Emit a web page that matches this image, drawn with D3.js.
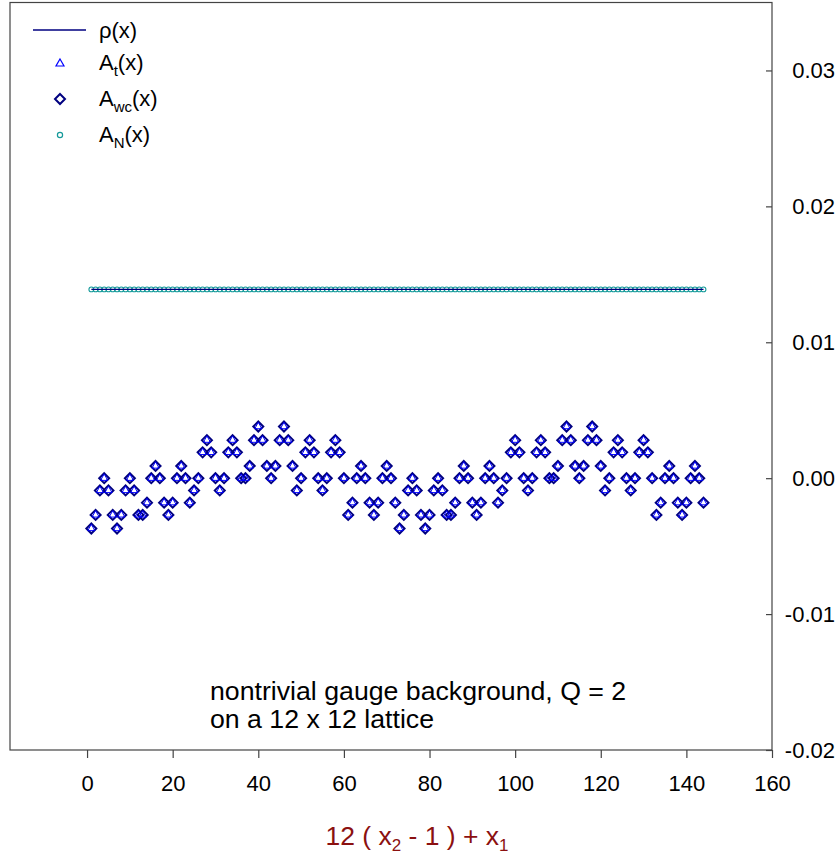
<!DOCTYPE html>
<html>
<head>
<meta charset="utf-8">
<script src="https://cdn.jsdelivr.net/npm/d3@7"></script>
<style>
  html, body { margin: 0; padding: 0; background: #fff; }
  svg { display: block; font-family: Arial, "Liberation Sans", Helvetica, sans-serif; }
</style>
</head>
<body>
<svg id="chart" width="840" height="859"></svg>
<script>
// ---------- data ----------
const xTicks = [0, 20, 40, 60, 80, 100, 120, 140, 160];
const yTicks = [-0.02, -0.01, 0.00, 0.01, 0.02, 0.03];

const sites = [
  1,2,3,4,5,6,7,8,9,10,11,12,
  13,14,15,16,17,18,19,20,21,22,23,24,
  25,26,27,28,29,30,31,32,33,34,35,36,
  37,38,39,40,41,42,43,44,45,46,47,48,
  49,50,51,52,53,54,55,56,57,58,59,60,
  61,62,63,64,65,66,67,68,69,70,71,72,
  73,74,75,76,77,78,79,80,81,82,83,84,
  85,86,87,88,89,90,91,92,93,94,95,96,
  97,98,99,100,101,102,103,104,105,106,107,108,
  109,110,111,112,113,114,115,116,117,118,119,120,
  121,122,123,124,125,126,127,128,129,130,131,132,
  133,134,135,136,137,138,139,140,141,142,143,144
];

// A_wc(x)
const Awc = [
  -0.0037,-0.0027,-0.0009,0,-0.0009,-0.0027,-0.0037,-0.0027,-0.0009,0,-0.0009,-0.0027,
  -0.0027,-0.0018,0,0.0009,0,-0.0018,-0.0027,-0.0018,0,0.0009,0,-0.0018,
  -0.0009,0,0.0019,0.0028,0.0019,0,-0.0009,0,0.0019,0.0028,0.0019,0,
  0,0.0009,0.0028,0.0038,0.0028,0.0009,0,0.0009,0.0028,0.0038,0.0028,0.0009,
  -0.0009,0,0.0019,0.0028,0.0019,0,-0.0009,0,0.0019,0.0028,0.0019,0,
  -0.0027,-0.0018,0,0.0009,0,-0.0018,-0.0027,-0.0018,0,0.0009,0,-0.0018,
  -0.0037,-0.0027,-0.0009,0,-0.0009,-0.0027,-0.0037,-0.0027,-0.0009,0,-0.0009,-0.0027,
  -0.0027,-0.0018,0,0.0009,0,-0.0018,-0.0027,-0.0018,0,0.0009,0,-0.0018,
  -0.0009,0,0.0019,0.0028,0.0019,0,-0.0009,0,0.0019,0.0028,0.0019,0,
  0,0.0009,0.0028,0.0038,0.0028,0.0009,0,0.0009,0.0028,0.0038,0.0028,0.0009,
  -0.0009,0,0.0019,0.0028,0.0019,0,-0.0009,0,0.0019,0.0028,0.0019,0,
  -0.0027,-0.0018,0,0.0009,0,-0.0018,-0.0027,-0.0018,0,0.0009,0,-0.0018
];

// A_t(x) (coincides with A_wc in the picture)
const At = [
  -0.0037,-0.0027,-0.0009,0,-0.0009,-0.0027,-0.0037,-0.0027,-0.0009,0,-0.0009,-0.0027,
  -0.0027,-0.0018,0,0.0009,0,-0.0018,-0.0027,-0.0018,0,0.0009,0,-0.0018,
  -0.0009,0,0.0019,0.0028,0.0019,0,-0.0009,0,0.0019,0.0028,0.0019,0,
  0,0.0009,0.0028,0.0038,0.0028,0.0009,0,0.0009,0.0028,0.0038,0.0028,0.0009,
  -0.0009,0,0.0019,0.0028,0.0019,0,-0.0009,0,0.0019,0.0028,0.0019,0,
  -0.0027,-0.0018,0,0.0009,0,-0.0018,-0.0027,-0.0018,0,0.0009,0,-0.0018,
  -0.0037,-0.0027,-0.0009,0,-0.0009,-0.0027,-0.0037,-0.0027,-0.0009,0,-0.0009,-0.0027,
  -0.0027,-0.0018,0,0.0009,0,-0.0018,-0.0027,-0.0018,0,0.0009,0,-0.0018,
  -0.0009,0,0.0019,0.0028,0.0019,0,-0.0009,0,0.0019,0.0028,0.0019,0,
  0,0.0009,0.0028,0.0038,0.0028,0.0009,0,0.0009,0.0028,0.0038,0.0028,0.0009,
  -0.0009,0,0.0019,0.0028,0.0019,0,-0.0009,0,0.0019,0.0028,0.0019,0,
  -0.0027,-0.0018,0,0.0009,0,-0.0018,-0.0027,-0.0018,0,0.0009,0,-0.0018
];

// A_N(x)
const AN = [
  0.01389,0.01389,0.01389,0.01389,0.01389,0.01389,0.01389,0.01389,0.01389,0.01389,0.01389,0.01389,
  0.01389,0.01389,0.01389,0.01389,0.01389,0.01389,0.01389,0.01389,0.01389,0.01389,0.01389,0.01389,
  0.01389,0.01389,0.01389,0.01389,0.01389,0.01389,0.01389,0.01389,0.01389,0.01389,0.01389,0.01389,
  0.01389,0.01389,0.01389,0.01389,0.01389,0.01389,0.01389,0.01389,0.01389,0.01389,0.01389,0.01389,
  0.01389,0.01389,0.01389,0.01389,0.01389,0.01389,0.01389,0.01389,0.01389,0.01389,0.01389,0.01389,
  0.01389,0.01389,0.01389,0.01389,0.01389,0.01389,0.01389,0.01389,0.01389,0.01389,0.01389,0.01389,
  0.01389,0.01389,0.01389,0.01389,0.01389,0.01389,0.01389,0.01389,0.01389,0.01389,0.01389,0.01389,
  0.01389,0.01389,0.01389,0.01389,0.01389,0.01389,0.01389,0.01389,0.01389,0.01389,0.01389,0.01389,
  0.01389,0.01389,0.01389,0.01389,0.01389,0.01389,0.01389,0.01389,0.01389,0.01389,0.01389,0.01389,
  0.01389,0.01389,0.01389,0.01389,0.01389,0.01389,0.01389,0.01389,0.01389,0.01389,0.01389,0.01389,
  0.01389,0.01389,0.01389,0.01389,0.01389,0.01389,0.01389,0.01389,0.01389,0.01389,0.01389,0.01389,
  0.01389,0.01389,0.01389,0.01389,0.01389,0.01389,0.01389,0.01389,0.01389,0.01389,0.01389,0.01389
];

// rho(x) line
const rhoX = [1, 144];
const rhoY = [0.01389, 0.01389];

// ---------- drawing ----------
const svg = d3.select("#chart");
const FONT = "Arial, 'Liberation Sans', Helvetica, sans-serif";
const frameColor = "#444";
const navy = "#000080";
const blue = "#0000ff";
const teal = "#159a9a";

const x = d3.scaleLinear().domain([-18, 160]).range([10, 772]);
const y = d3.scaleLinear().domain([-0.02, 0.035]).range([750, 2.5]);

// frame
svg.append("rect")
  .attr("x", x(-18)).attr("y", y(0.035))
  .attr("width", x(160) - x(-18)).attr("height", y(-0.02) - y(0.035))
  .attr("fill", "none").attr("stroke", frameColor).attr("stroke-width", 1.2);

// x axis
const gx = svg.append("g").attr("transform", `translate(0,${y(-0.02)})`)
  .call(d3.axisBottom(x).tickValues(xTicks).tickSize(8).tickPadding(17)
        .tickFormat(d => String(d)));
gx.select(".domain").remove();
gx.selectAll("line").attr("stroke", frameColor).attr("stroke-width", 1.2);
gx.selectAll("text").attr("font-size", 22).attr("font-family", FONT).attr("fill", "#000");

// y axis (right)
const gy = svg.append("g").attr("transform", `translate(${x(160)},0)`)
  .call(d3.axisRight(y).tickValues(yTicks).tickSizeInner(-6).tickSizeOuter(0).tickPadding(10)
        .tickFormat(d => d.toFixed(2)));
gy.select(".domain").remove();
gy.selectAll("line").attr("stroke", frameColor).attr("stroke-width", 1.2);
gy.selectAll("text").attr("font-size", 22).attr("font-family", FONT).attr("fill", "#000")
  .attr("text-anchor", "end").attr("x", 63);

// symbols
const diamondPath = "M0,-5L5,0L0,5L-5,0Z";
const triPath = "M0,-4.2L3.6,2.2L-3.6,2.2Z";

// A_N circles
svg.append("g").selectAll("circle").data(sites).join("circle")
  .attr("cx", (d) => x(d)).attr("cy", (d, i) => y(AN[i])).attr("r", 2.4)
  .attr("fill", "none").attr("stroke", teal).attr("stroke-width", 1.1);

// rho line
svg.append("path")
  .datum(rhoX.map((d, i) => [d, rhoY[i]]))
  .attr("d", d3.line().x(d => x(d[0])).y(d => y(d[1])))
  .attr("stroke", navy).attr("stroke-width", 1.2).attr("fill", "none");

// A_wc diamonds
svg.append("g").selectAll("path").data(sites).join("path")
  .attr("d", diamondPath)
  .attr("transform", (d, i) => `translate(${x(d)},${y(Awc[i])})`)
  .attr("fill", "none").attr("stroke", navy).attr("stroke-width", 2);

// A_t triangles
svg.append("g").selectAll("path").data(sites).join("path")
  .attr("d", triPath)
  .attr("transform", (d, i) => `translate(${x(d)},${y(At[i])})`)
  .attr("fill", "none").attr("stroke", blue).attr("stroke-width", 1);

// legend
const lg = svg.append("g").attr("font-family", FONT).attr("font-size", 22).attr("fill", "#000");
lg.append("line").attr("x1", 33).attr("x2", 86).attr("y1", 30).attr("y2", 30)
  .attr("stroke", navy).attr("stroke-width", 1.4);
lg.append("text").attr("x", 99).attr("y", 38).text("ρ(x)");

lg.append("path").attr("d", "M0,-4L4,3L-4,3Z").attr("transform", "translate(60,63)")
  .attr("fill", "none").attr("stroke", blue).attr("stroke-width", 1.2);
const t1 = lg.append("text").attr("x", 99).attr("y", 70);
t1.append("tspan").text("A");
t1.append("tspan").attr("font-size", 15).attr("dy", 6).text("t");
t1.append("tspan").attr("dy", -6).text("(x)");

lg.append("path").attr("d", "M0,-5L5,0L0,5L-5,0Z").attr("transform", "translate(60,99)")
  .attr("fill", "none").attr("stroke", navy).attr("stroke-width", 2);
const t2 = lg.append("text").attr("x", 99).attr("y", 106);
t2.append("tspan").text("A");
t2.append("tspan").attr("font-size", 15).attr("dy", 6).text("wc");
t2.append("tspan").attr("dy", -6).text("(x)");

lg.append("circle").attr("cx", 60).attr("cy", 135).attr("r", 2.6)
  .attr("fill", "none").attr("stroke", teal).attr("stroke-width", 1.2);
const t3 = lg.append("text").attr("x", 99).attr("y", 142);
t3.append("tspan").text("A");
t3.append("tspan").attr("font-size", 15).attr("dy", 6).text("N");
t3.append("tspan").attr("dy", -6).text("(x)");

// annotation
const ann = svg.append("g").attr("font-family", FONT).attr("font-size", 26.7).attr("fill", "#000");
ann.append("text").attr("x", 210).attr("y", 700).text("nontrivial gauge background, Q = 2");
ann.append("text").attr("x", 210).attr("y", 728).text("on a 12 x 12 lattice");

// x axis title
const xt = svg.append("text").attr("x", 417).attr("y", 845).attr("text-anchor", "middle")
  .attr("font-family", FONT).attr("font-size", 26.5).attr("fill", "#8b1010");
xt.append("tspan").text("12 ( x");
xt.append("tspan").attr("font-size", 17).attr("dy", 6).text("2");
xt.append("tspan").attr("dy", -6).text(" - 1 ) + x");
xt.append("tspan").attr("font-size", 17).attr("dy", 6).text("1");
</script>
</body>
</html>
